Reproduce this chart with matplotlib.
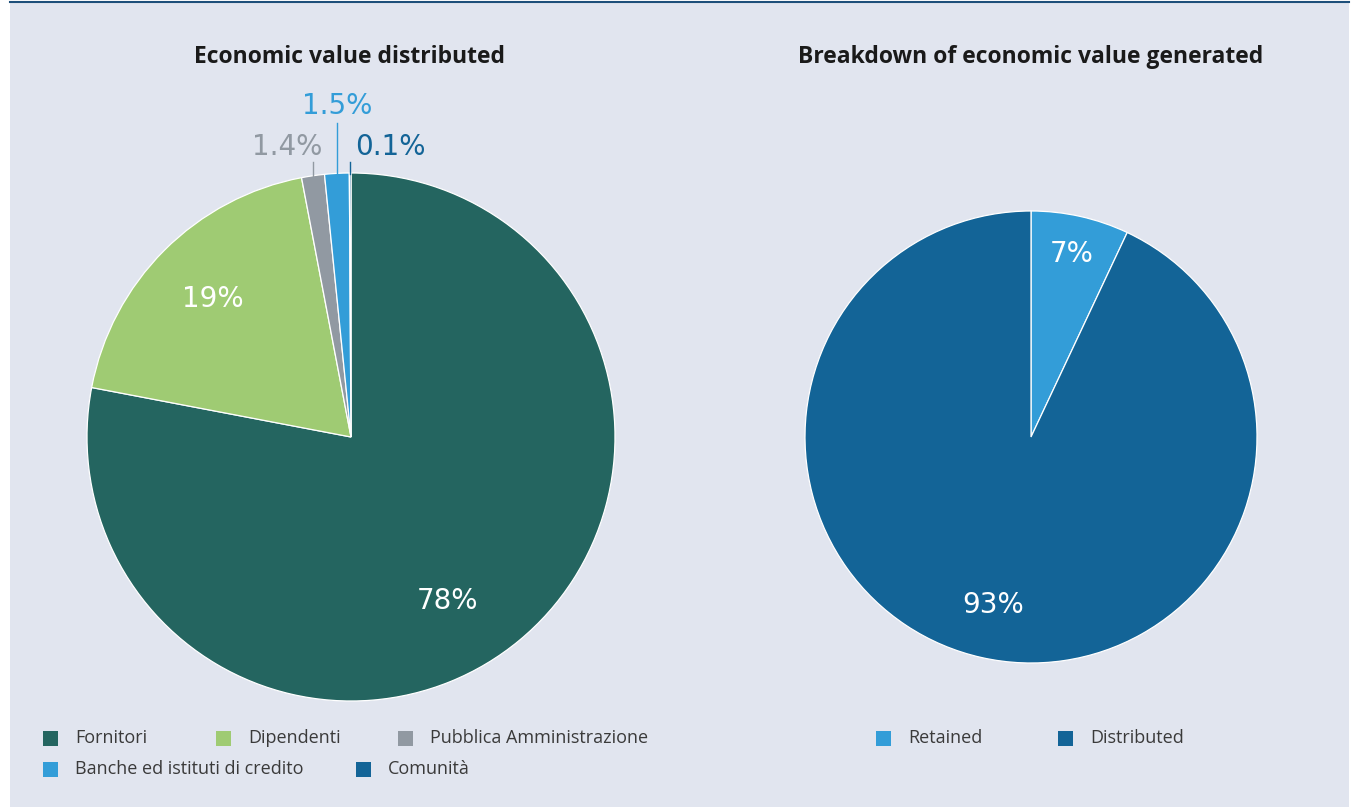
import numpy as np
import matplotlib
matplotlib.use("Agg")
import matplotlib.pyplot as plt
from matplotlib.patches import Rectangle
from matplotlib.lines import Line2D

# data
left_labels = ["Fornitori", "Dipendenti", "Pubblica Amministrazione",
               "Banche ed istituti di credito", "Comunità"]
left_values = [78, 19, 1.4, 1.5, 0.1]
left_colors = ["#246560", "#9fcb73", "#9199a2", "#339dd8", "#136497"]

right_labels = ["Retained", "Distributed"]
right_values = [7, 93]
right_colors = ["#339dd8", "#136497"]

W, H = 1358, 807
BG = "#e1e5ef"

fig = plt.figure(figsize=(W / 100, H / 100), dpi=100)
fig.patch.set_facecolor("white")

def fx(px):
    return px / W

def fy(py):
    return 1 - py / H

# panel background and top border
fig.patches.append(Rectangle((fx(10), 0), fx(1349) - fx(10), fy(3), transform=fig.transFigure,
                             facecolor=BG, edgecolor="none", zorder=-5))
fig.lines.append(Line2D([fx(10), fx(1349)], [fy(2), fy(2)], transform=fig.transFigure,
                        color="#1d4f7a", linewidth=1.5, zorder=-4))


def make_pie(cx, cy, r, values, colors):
    ax = fig.add_axes([fx(cx - r), fy(cy + r), (2 * r) / W, (2 * r) / H])
    ax.set_zorder(1)
    wedges, _ = ax.pie(values, colors=colors, startangle=90, counterclock=False,
                       radius=1, wedgeprops=dict(edgecolor="white", linewidth=0.9))
    ax.set_xlim(-1, 1)
    ax.set_ylim(-1, 1)
    ax.set_aspect("equal")
    ax.axis("off")
    return ax, wedges


def pct(v):
    return f"{v:g}%"


label_font = dict(family="DejaVu Sans", fontsize=20)

# left pie, inner labels: (slice index, radius, angle shift in degrees)
axl, wl = make_pie(351, 437, 264, left_values, left_colors)
inner = [(0, 0.72, -9), (1, 0.74, 0)]
for i, d, shift in inner:
    w = wl[i]
    mid = np.deg2rad((w.theta1 + w.theta2) / 2 + shift)
    axl.text(d * np.cos(mid), d * np.sin(mid), pct(left_values[i]), ha="center", va="center",
             color="white", **label_font)

# small slices: leader lines going up, (index, line top, text y, text x shift, alignment)
small = [(2, 1.04, 1.10, 0.035, "right"), (3, 1.19, 1.255, 0, "center"), (4, 1.04, 1.10, 0.02, "left")]
for i, ytop, ytext, shift, ha in small:
    w = wl[i]
    mid = np.deg2rad((w.theta1 + w.theta2) / 2)
    x0 = np.cos(mid)
    axl.plot([x0, x0], [np.sin(mid) - 0.005, ytop], color=left_colors[i], linewidth=1,
             clip_on=False)
    axl.text(x0 + shift, ytext, pct(left_values[i]), ha=ha, va="center", color=left_colors[i],
             clip_on=False, **label_font)

# right pie
axr, wr = make_pie(1031, 437, 226, right_values, right_colors)
for w, v, d in zip(wr, right_values, [0.83, 0.76]):
    mid = np.deg2rad((w.theta1 + w.theta2) / 2)
    axr.text(d * np.cos(mid), d * np.sin(mid), pct(v), ha="center", va="center",
             color="white", **label_font)

# titles
title_font = dict(family="Open Sans", fontsize=16.5, fontweight="bold", color="#1a1a1a")
fig.text(fx(350), fy(57), "Economic value distributed", ha="center", va="center", **title_font)
fig.text(fx(1031), fy(57), "Breakdown of economic value generated", ha="center", va="center",
         **title_font)

# legends
leg_font = dict(family="Open Sans", fontsize=13, color="#3a3a3a")
left_leg_pos = [(43, 738), (216, 738), (398, 738), (43, 769), (356, 769)]
right_leg_pos = [(876, 738), (1058, 738)]


def legend_item(x, y, color, text):
    s = 15
    fig.patches.append(Rectangle((fx(x), fy(y + s / 2)), s / W, s / H, transform=fig.transFigure,
                                 facecolor=color, edgecolor="none"))
    fig.text(fx(x + 32), fy(y), text, ha="left", va="center", **leg_font)


for (x, y), c, t in zip(left_leg_pos, left_colors, left_labels):
    legend_item(x, y, c, t)
for (x, y), c, t in zip(right_leg_pos, right_colors, right_labels):
    legend_item(x, y, c, t)

fig.savefig("out.png", dpi=100, facecolor=fig.get_facecolor())
